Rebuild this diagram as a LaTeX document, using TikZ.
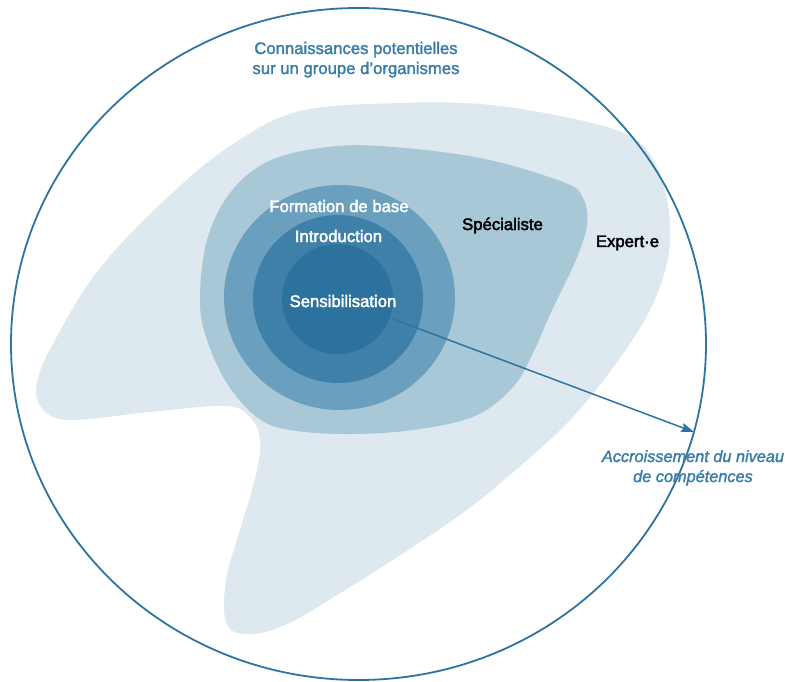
\documentclass[tikz,border=0pt]{standalone}
\usepackage{fontspec}
\setmainfont{Liberation Sans}
\newfontfamily\medfont[FakeBold=2.5]{Liberation Sans}
\newfontfamily\titlefont[FakeBold=2]{Liberation Sans}
\newfontfamily\italfont[FakeBold=1.8]{Liberation Sans Italic}
\usetikzlibrary{arrows.meta}
\definecolor{lvlA}{HTML}{2B739E}
\definecolor{lvlB}{HTML}{3F80A8}
\definecolor{lvlC}{HTML}{6A9FBE}
\definecolor{lvlD}{HTML}{A8C7D7}
\definecolor{lvlE}{HTML}{DEE8EF}
\definecolor{lineblue}{HTML}{2E74A0}
\definecolor{textblue}{HTML}{3A7DA8}
\tikzset{
  lbl/.style={anchor=base, inner sep=0pt, font=\medfont\fontsize{16.7}{20}\selectfont},
  whitelbl/.style={lbl, text=white},
  blacklbl/.style={lbl, text=black},
  bluetitle/.style={anchor=base, inner sep=0pt, align=center, text=textblue,
     font=\titlefont\fontsize{16.7}{20}\selectfont},
  blueitalic/.style={anchor=base, inner sep=0pt, align=center, text=textblue,
     font=\italfont\fontsize{16.3}{20}\selectfont},
  outerring/.style={draw=lineblue, line width=1.8pt},
  growth/.style={draw=lineblue, line width=1.5pt, -{Stealth[length=13pt,width=9pt,inset=2pt]}}
}
\begin{document}
\begin{tikzpicture}[x=1pt,y=-1pt]
\useasboundingbox (0,0) rectangle (785,682);
% Expert-e region
\fill[lvlE] plot[smooth cycle, tension=0.6] coordinates {
  (480,104) (550,114) (610,128) (640,143) (658,170) (669,212) (668,258)
  (650,310) (615,365) (570,420) (510,475) (450,522) (350,587) (285,625)
  (245,634) (226,622) (226,580) (240,530) (256,475) (260,440) (250,417)
  (225,406) (150,412) (70,420) (42,408) (37,382) (55,340) (100,268)
  (170,195) (233,144) (300,111) (400,103)};
% Specialiste region
\fill[lvlD] plot[smooth cycle, tension=0.6] coordinates {
  (200,300) (207,240) (230,193) (267,162) (320,148) (380,146) (480,158)
  (563,182) (583,198) (587,225) (575,262) (552,310) (533,353) (513,387)
  (475,416) (413,430) (347,434) (290,430) (258,418) (228,385) (207,340)};
% Formation de base / Introduction / Sensibilisation
\fill[lvlC] (339.5,297.5) ellipse [x radius=115.5pt, y radius=112.5pt];
\fill[lvlB] (338,299) ellipse [x radius=85pt, y radius=84pt];
\fill[lvlA] (337.5,299) ellipse [x radius=55.5pt, y radius=55pt];
% outer circle
\draw[outerring] (358.5,344) ellipse [x radius=347.5pt, y radius=336pt];
% labels
\node[bluetitle] (title) at (356,74) {Connaissances potentielles\\sur un groupe d’organismes};
\node[whitelbl] (formation) at (339,212) {Formation de base};
\node[whitelbl] (intro) at (338.5,242) {Introduction};
\node[whitelbl] (sensib) at (343,307) {Sensibilisation};
\node[blacklbl] (spec) at (502.5,230) {Spécialiste};
\node[blacklbl] (expert) at (627.5,247) {Expert·e};
\node[blueitalic] (growthlbl) at (693,482) {Accroissement du niveau\\de compétences};
% arrow
\coordinate (arrowstart) at (393,319);
\coordinate (arrowtip) at (694,432);
\draw[growth] (arrowstart) -- (arrowtip);
\end{tikzpicture}
\end{document}
